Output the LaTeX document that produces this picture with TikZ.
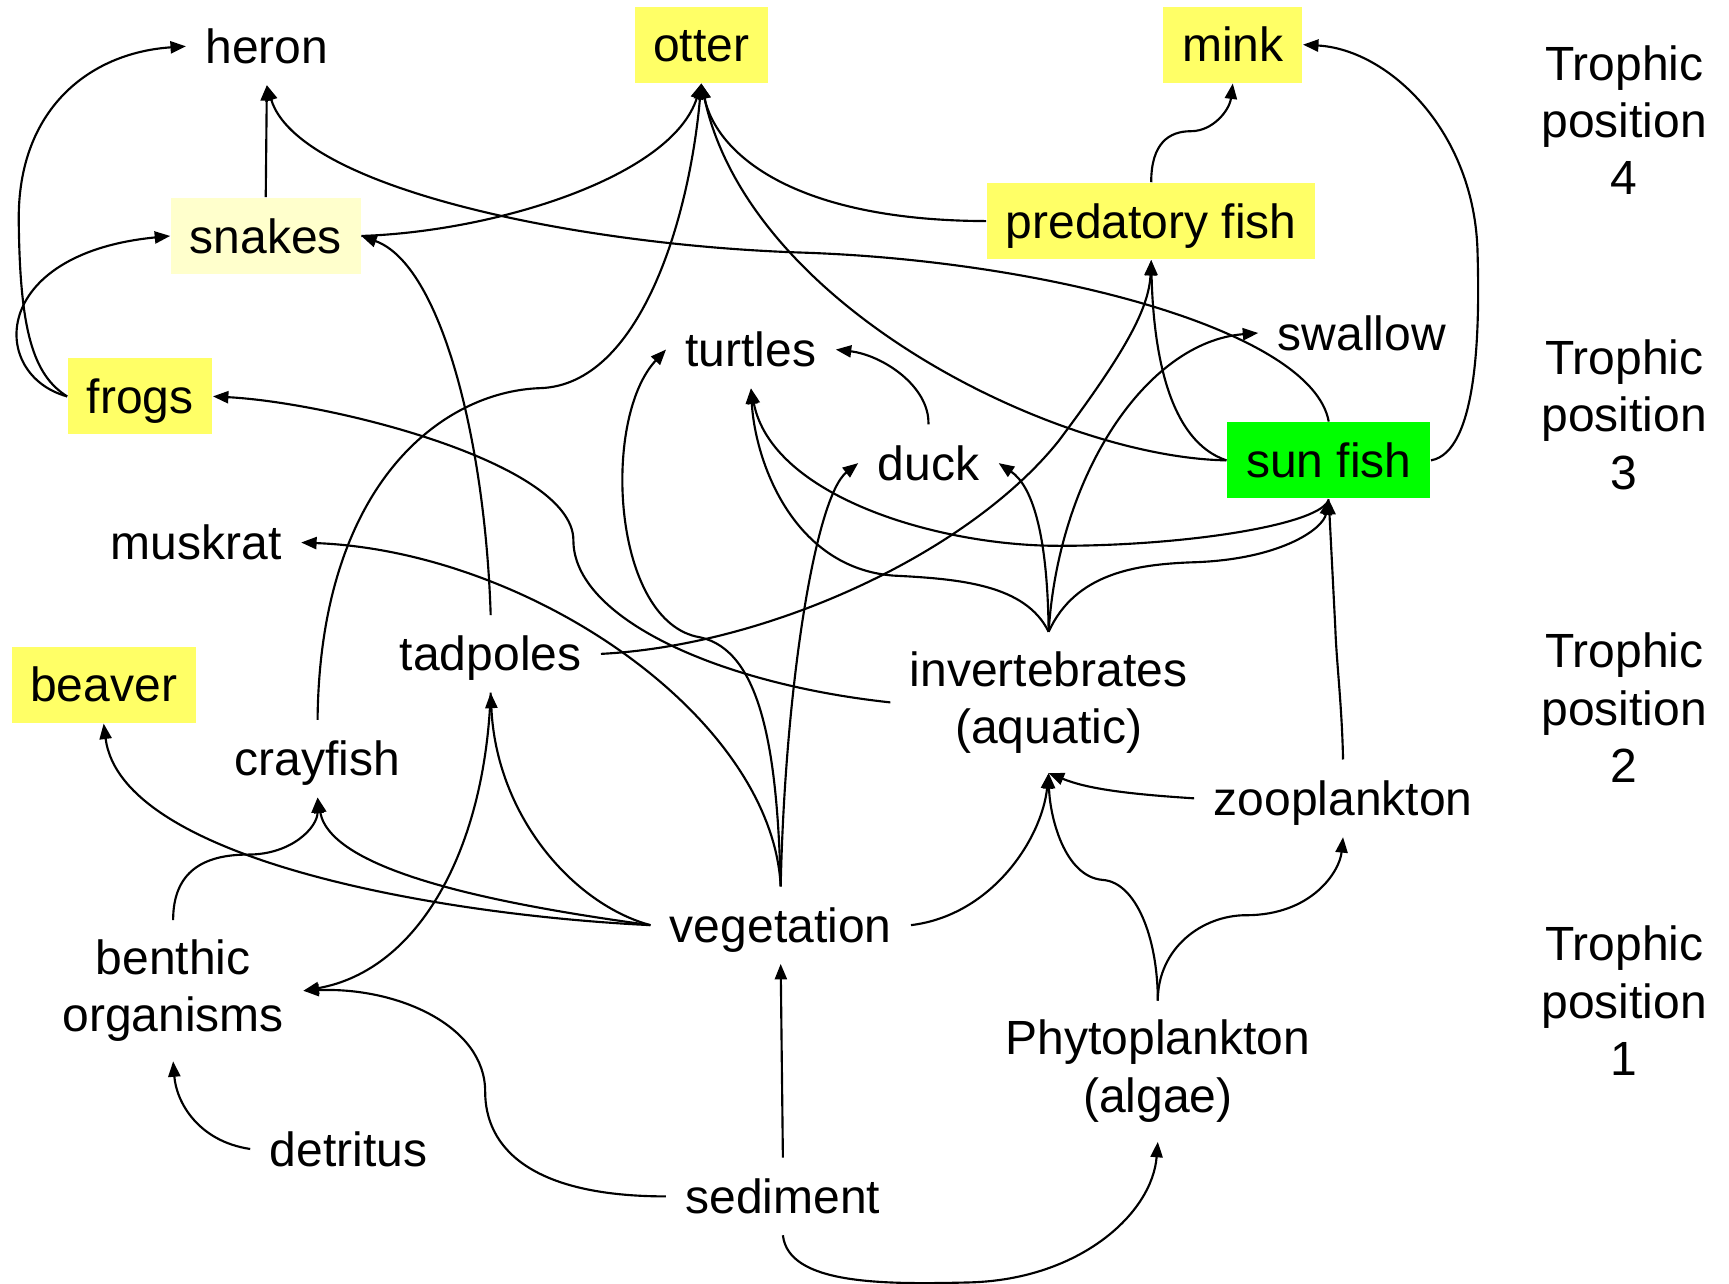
\documentclass[tikz,border=0pt]{standalone}
\usepackage{fontspec}
\setmainfont{Liberation Sans}
\usetikzlibrary{arrows.meta}
\definecolor{hiyellow}{RGB}{255,255,102}
\definecolor{paleyellow}{RGB}{255,255,204}
\definecolor{fishgreen}{RGB}{0,255,0}
\newcommand{\labelfont}{\fontsize{12.38pt}{14.8pt}\selectfont}
\tikzset{
  lbl/.style={font=\labelfont, inner xsep=0.17cm, inner ysep=0.19cm,
              text height=0.31cm, text depth=0cm, minimum height=0.69cm},
  multi/.style={font=\labelfont, align=center, inner xsep=0.17cm, inner ysep=0.17cm},
  hi/.style={fill=hiyellow},
  pale/.style={fill=paleyellow},
  green/.style={fill=fishgreen},
  link/.style={draw, line width=0.55pt, -{Triangle[length=0.14cm,width=0.11cm]}}
}
\begin{document}
\begin{tikzpicture}[x=0.01cm, y=-0.01cm]
\useasboundingbox (0,0) rectangle (1568,1164);

% trophic position 4
\node[lbl]      (heron)   at (242,42)    {heron};
\node[lbl,hi]   (otter)   at (636,40.5)  {otter};
\node[lbl,hi]   (mink)    at (1118,40.5) {mink};
\node[lbl,pale] (snakes)  at (241,214)   {snakes};
\node[lbl,hi]   (pfish)   at (1044,200.5){predatory fish};
% trophic position 3
\node[lbl,hi]   (frogs)   at (127,359.5) {frogs};
\node[lbl]      (turtles) at (681,317)   {turtles};
\node[lbl]      (swallow) at (1235,302)  {swallow};
\node[lbl]      (duck)    at (842,420)   {duck};
\node[lbl,green](sunfish) at (1205,417.5){sun fish};
% trophic position 2
\node[lbl]      (muskrat) at (178,492)   {muskrat};
\node[lbl]      (tadpoles)at (445,593)   {tadpoles};
\node[lbl,hi]   (beaver)  at (94,621)    {beaver};
\node[lbl]      (crayfish)at (288,688)   {crayfish};
\node[multi]    (inverts) at (951,637)   {invertebrates\\(aquatic)};
\node[lbl]      (zoo)     at (1218,724)  {zooplankton};
% trophic position 1
\node[lbl]      (veg)     at (708,839)   {vegetation};
\node[multi]    (benthic) at (157,898.5) {benthic\\organisms};
\node[multi]    (phyto)   at (1050,971.5){Phytoplankton\\(algae)};
\node[lbl]      (detritus)at (316,1042)  {detritus};
\node[lbl]      (sediment)at (710,1085)  {sediment};

% level captions
\node[multi] (tp4) at (1473,109)   {Trophic\\position\\4};
\node[multi] (tp3) at (1473,376)   {Trophic\\position\\3};
\node[multi] (tp2) at (1473,642)   {Trophic\\position\\2};
\node[multi] (tp1) at (1473,907.5) {Trophic\\position\\1};

% feeding links
\path[link] (frogs.west) .. controls (30,340) and (18,300) .. (17,200)
            .. controls (16,100) and (80,48) .. (heron.west);
\path[link] (frogs.west) .. controls (-10,340) and (-10,230) .. (snakes.west);
\path[link] (snakes.north) -- (heron.south);
\path[link] (snakes.east) .. controls (450,210) and (610,160) .. (otter.south);
\path[link] (crayfish.north) .. controls (290,440) and (400,355) .. (490,352)
            .. controls (580,349) and (625,200) .. (otter.south);
\path[link] (pfish.west) .. controls (720,200) and (650,140) .. (otter.south);
\path[link] (sunfish.west) .. controls (960,415) and (680,280) .. (otter.south);
\path[link] (pfish.north) .. controls (1044,130) and (1060,119) .. (1080,119)
            .. controls (1100,119) and (1115,100) .. (mink.south);
\path[link] (sunfish.east) .. controls (1340,410) and (1342,300) .. (1340,230)
            .. controls (1338,120) and (1260,45) .. (mink.east);
\path[link] (sunfish.north) .. controls (1190,300) and (950,236) .. (725,229)
            .. controls (520,222) and (270,170) .. (heron.south);
\path[link] (inverts.north) .. controls (960,430) and (1040,310) .. (swallow.west);
\path[link] (duck.north) .. controls (843,350) and (800,322) .. (turtles.east);
\path[link] (veg.north) .. controls (705,680) and (690,590) .. (635,578)
            .. controls (555,565) and (545,380) .. (turtles.west);
\path[link] (inverts.north) .. controls (930,530) and (870,525) .. (810,522)
            .. controls (720,515) and (685,420) .. (turtles.south);
\path[link] (sunfish.south) .. controls (1200,475) and (1080,495) .. (960,495)
            .. controls (850,495) and (700,450) .. (turtles.south);
\path[link] (veg.north) .. controls (712,620) and (740,450) .. (duck.west);
\path[link] (inverts.north) .. controls (950,480) and (935,440) .. (duck.east);
\path[link] (inverts.north) .. controls (975,520) and (1030,512) .. (1080,510)
            .. controls (1160,508) and (1200,480) .. (sunfish.south);
\path[link] (zoo.north) .. controls (1217,640) and (1212,600) .. (1211,570) -- (sunfish.south);
\path[link] (tadpoles.east) .. controls (700,585) and (880,500) .. (960,400)
            .. controls (1020,320) and (1042,280) .. (pfish.south);
\path[link] (sunfish.west) .. controls (1060,400) and (1046,320) .. (pfish.south);
\path[link] (inverts.west) .. controls (650,620) and (520,560) .. (520,490)
            .. controls (520,420) and (300,365) .. (frogs.east);
\path[link] (veg.north) .. controls (700,650) and (480,500) .. (muskrat.east);
\path[link] (tadpoles.north) .. controls (440,400) and (400,240) .. (snakes.east);
\path[link] (veg.west) .. controls (520,820) and (450,740) .. (tadpoles.south);
\path[link] (tadpoles.south) .. controls (440,770) and (380,880) .. (benthic.east);
\path[link] (veg.west) .. controls (450,820) and (300,790) .. (crayfish.south);
\path[link] (benthic.north) .. controls (157,790) and (185,775) .. (225,775)
            .. controls (265,775) and (288,750) .. (crayfish.south);
\path[link] (veg.west) .. controls (400,830) and (110,780) .. (beaver.south);
\path[link] (sediment.west) .. controls (480,1085) and (440,1040) .. (440,990)
            .. controls (440,930) and (360,895) .. (benthic.east);
\path[link] (detritus.west) .. controls (180,1035) and (160,1000) .. (benthic.south);
\path[link] (sediment.north) -- (veg.south);
\path[link] (sediment.south) .. controls (715,1165) and (800,1165) .. (880,1163)
            .. controls (980,1160) and (1045,1100) .. (phyto.south);
\path[link] (veg.east) .. controls (900,830) and (945,760) .. (inverts.south);
\path[link] (zoo.west) .. controls (1020,720) and (985,715) .. (inverts.south);
\path[link] (phyto.north) .. controls (1050,850) and (1030,800) .. (1000,798)
            .. controls (965,795) and (952,740) .. (inverts.south);
\path[link] (phyto.north) .. controls (1050,860) and (1090,830) .. (1130,830)
            .. controls (1190,830) and (1215,790) .. (zoo.south);
\end{tikzpicture}
\end{document}
